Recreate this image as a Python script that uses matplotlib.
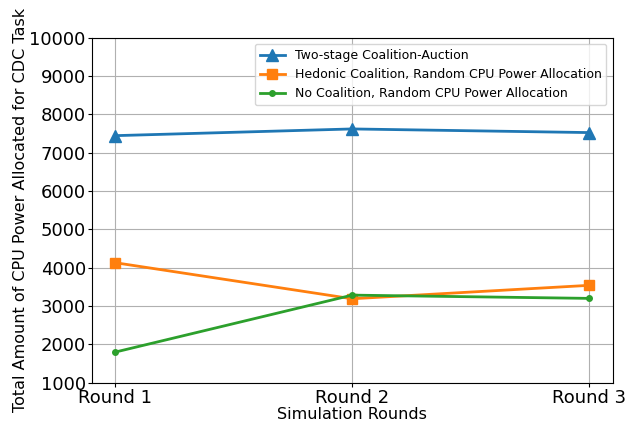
import matplotlib
matplotlib.use("Agg")
import matplotlib.pyplot as plt

rounds = ["Round 1", "Round 2", "Round 3"]
two_stage = [7445, 7620, 7525]
hedonic = [4130, 3190, 3540]
no_coalition = [1800, 3285, 3200]

fig = plt.figure(figsize=(6.29, 4.26), dpi=100)
ax = fig.add_axes([0.1458, 0.1016, 0.974 - 0.1458, 0.9115 - 0.1016])

x = list(range(len(rounds)))
ax.plot(x, two_stage, color="#1f77b4", marker="^", markersize=8, linewidth=2,
        label="Two-stage Coalition-Auction")
ax.plot(x, hedonic, color="#ff7f0e", marker="s", markersize=7, linewidth=2,
        label="Hedonic Coalition, Random CPU Power Allocation")
ax.plot(x, no_coalition, color="#2ca02c", marker="o", markersize=4, linewidth=2,
        label="No Coalition, Random CPU Power Allocation")

ax.set_xticks(x)
ax.set_xticklabels(rounds, fontsize=13)
ax.set_ylim(1000, 10000)
ax.set_yticks(range(1000, 10001, 1000))
ax.tick_params(axis="y", labelsize=13)
ax.tick_params(axis="both", length=3, pad=1.2)
ax.grid(True, color="#b0b0b0", linewidth=0.8)
ax.set_axisbelow(True)
ax.set_xlabel("Simulation Rounds", fontsize=11.5, labelpad=0)
ax.set_ylabel("Total Amount of CPU Power Allocated for CDC Task", fontsize=11.5, labelpad=1)
ax.legend(loc="upper right", fontsize=9)

fig.savefig("out.png", dpi=100)
